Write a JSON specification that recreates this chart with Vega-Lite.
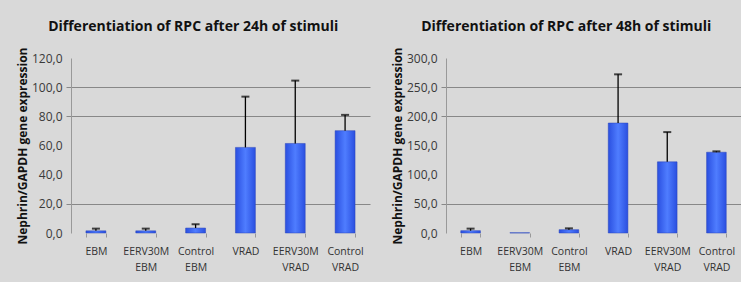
{
  "$schema": "https://vega.github.io/schema/vega-lite/v6.json",
  "background": "#d9d9d9",
  "padding": {"left": 16, "top": 20, "right": 0, "bottom": 12},
  "spacing": 21,
  "config": {
    "font": "Open Sans",
    "view": {"stroke": null},
    "title": {"fontSize": 14, "fontWeight": "bold", "color": "#111", "font": "Open Sans", "offset": 13, "anchor": "middle", "frame": "bounds"},
    "axis": {"labelFont": "Open Sans", "titleFont": "Open Sans"},
    "axisY": {
      "labelOverlap": false, "labelFlush": false,
      "labelExpr": "replace(format(datum.value, '.1f'), '.', ',')",
      "labelFontSize": 12, "labelColor": "#3a3a3a", "labelPadding": 4,
      "titleFontSize": 12, "titleFontWeight": "bold", "titleColor": "#111", "titlePadding": 2,
      "domain": true, "domainColor": "#999",
      "ticks": true, "tickSize": 5, "grid": true, "gridWidth": 1.2
    }
  },
  "datasets": {
    "d24": [
      {"group": "EBM", "value": 1.5, "upper": 3},
      {"group": "EERV30M\nEBM", "value": 1.5, "upper": 3},
      {"group": "Control\nEBM", "value": 3.4, "upper": 6},
      {"group": "VRAD", "value": 58.7, "upper": 93.5},
      {"group": "EERV30M\nVRAD", "value": 61.4, "upper": 104.5},
      {"group": "Control\nVRAD", "value": 70.2, "upper": 81}
    ],
    "d48": [
      {"group": "EBM", "value": 4, "upper": 7.5},
      {"group": "EERV30M\nEBM", "value": 0.4, "upper": null},
      {"group": "Control\nEBM", "value": 5.7, "upper": 8},
      {"group": "VRAD", "value": 188.5, "upper": 272},
      {"group": "EERV30M\nVRAD", "value": 122, "upper": 173},
      {"group": "Control\nVRAD", "value": 138.5, "upper": 140}
    ]
  },
  "hconcat": [
    {
      "title": "Differentiation of RPC after 24h of stimuli",
      "width": 299,
      "height": 175,
      "data": {"name": "d24"},
      "encoding": {
        "x": {
          "field": "group", "type": "nominal", "sort": null, "title": null,
          "scale": {"paddingInner": 0.6, "paddingOuter": 0.3},
          "axis": {
            "labelAngle": 0, "labelExpr": "split(datum.label, '\\n')",
            "labelFontSize": 10.5, "labelColor": "#333", "labelPadding": 9, "labelLineHeight": 16,
            "domain": false, "tickBand": "extent", "tickSize": 4, "tickColor": "#999", "labelBaseline": "top"
          }
        }
      },
      "layer": [
        {
          "mark": {"type": "bar", "stroke": "#2a44b8", "strokeWidth": 0.5, "color": {"gradient": "linear", "x1": 0, "x2": 1, "y1": 0, "y2": 0, "stops": [{"offset": 0, "color": "#2a4fe0"}, {"offset": 0.5, "color": "#4f7dff"}, {"offset": 1, "color": "#2a4fe0"}]}},
          "encoding": {
            "y": {
              "field": "value", "type": "quantitative",
              "scale": {"domain": [0, 120]},
              "title": "Nephrin/GAPDH gene expression",
              "axis": {
                "values": [0, 20, 40, 60, 80, 100, 120],
                "tickColor": {"condition": {"test": "datum.value === 40 || datum.value === 60 || datum.value === 120 || datum.value === 0", "value": "transparent"}, "value": "#888"},
                "gridColor": {"condition": {"test": "datum.value === 40 || datum.value === 60 || datum.value === 0 || datum.value === 120", "value": "transparent"}, "value": "#888"}
              }
            }
          }
        },
        {
          "mark": {"type": "rule", "color": "#000", "strokeWidth": 1.3},
          "encoding": {
            "y": {"field": "value", "type": "quantitative", "title": "Nephrin/GAPDH gene expression",
              "axis": {
                "values": [0, 20, 40, 60, 80, 100, 120],
                "tickColor": {"condition": {"test": "datum.value === 40 || datum.value === 60 || datum.value === 120 || datum.value === 0", "value": "transparent"}, "value": "#888"},
                "gridColor": {"condition": {"test": "datum.value === 40 || datum.value === 60 || datum.value === 0 || datum.value === 120", "value": "transparent"}, "value": "#888"}
              }},
            "y2": {"field": "upper"}
          }
        },
        {
          "mark": {"type": "tick", "color": "#000", "thickness": 2, "size": 8},
          "encoding": {
            "y": {"field": "upper", "type": "quantitative", "title": "Nephrin/GAPDH gene expression",
              "axis": {
                "values": [0, 20, 40, 60, 80, 100, 120],
                "tickColor": {"condition": {"test": "datum.value === 40 || datum.value === 60 || datum.value === 120 || datum.value === 0", "value": "transparent"}, "value": "#888"},
                "gridColor": {"condition": {"test": "datum.value === 40 || datum.value === 60 || datum.value === 0 || datum.value === 120", "value": "transparent"}, "value": "#888"}
              }}
          }
        }
      ]
    },
    {
      "title": "Differentiation of RPC after 48h of stimuli",
      "width": 295,
      "height": 175,
      "data": {"name": "d48"},
      "encoding": {
        "x": {
          "field": "group", "type": "nominal", "sort": null, "title": null,
          "scale": {"paddingInner": 0.6, "paddingOuter": 0.3},
          "axis": {
            "labelAngle": 0, "labelExpr": "split(datum.label, '\\n')",
            "labelFontSize": 10.5, "labelColor": "#333", "labelPadding": 9, "labelLineHeight": 16,
            "domain": false, "tickBand": "extent", "tickSize": 4, "tickColor": "#999", "labelBaseline": "top"
          }
        }
      },
      "layer": [
        {
          "mark": {"type": "bar", "stroke": "#2a44b8", "strokeWidth": 0.5, "color": {"gradient": "linear", "x1": 0, "x2": 1, "y1": 0, "y2": 0, "stops": [{"offset": 0, "color": "#2a4fe0"}, {"offset": 0.5, "color": "#4f7dff"}, {"offset": 1, "color": "#2a4fe0"}]}},
          "encoding": {
            "y": {
              "field": "value", "type": "quantitative",
              "scale": {"domain": [0, 300]},
              "title": "Nephrin/GAPDH gene expression",
              "axis": {
                "values": [0, 50, 100, 150, 200, 250, 300],
                "tickColor": {"condition": {"test": "datum.value === 100 || datum.value === 150 || datum.value === 300 || datum.value === 0", "value": "transparent"}, "value": "#888"},
                "gridColor": {"condition": {"test": "datum.value === 100 || datum.value === 150 || datum.value === 0 || datum.value === 300", "value": "transparent"}, "value": "#888"}
              }
            }
          }
        },
        {
          "mark": {"type": "rule", "color": "#000", "strokeWidth": 1.3},
          "encoding": {
            "y": {"field": "value", "type": "quantitative", "title": "Nephrin/GAPDH gene expression",
              "axis": {
                "values": [0, 50, 100, 150, 200, 250, 300],
                "tickColor": {"condition": {"test": "datum.value === 100 || datum.value === 150 || datum.value === 300 || datum.value === 0", "value": "transparent"}, "value": "#888"},
                "gridColor": {"condition": {"test": "datum.value === 100 || datum.value === 150 || datum.value === 0 || datum.value === 300", "value": "transparent"}, "value": "#888"}
              }},
            "y2": {"field": "upper"}
          }
        },
        {
          "mark": {"type": "tick", "color": "#000", "thickness": 2, "size": 8},
          "encoding": {
            "y": {"field": "upper", "type": "quantitative", "title": "Nephrin/GAPDH gene expression",
              "axis": {
                "values": [0, 50, 100, 150, 200, 250, 300],
                "tickColor": {"condition": {"test": "datum.value === 100 || datum.value === 150 || datum.value === 300 || datum.value === 0", "value": "transparent"}, "value": "#888"},
                "gridColor": {"condition": {"test": "datum.value === 100 || datum.value === 150 || datum.value === 0 || datum.value === 300", "value": "transparent"}, "value": "#888"}
              }}
          }
        }
      ]
    }
  ]
}
